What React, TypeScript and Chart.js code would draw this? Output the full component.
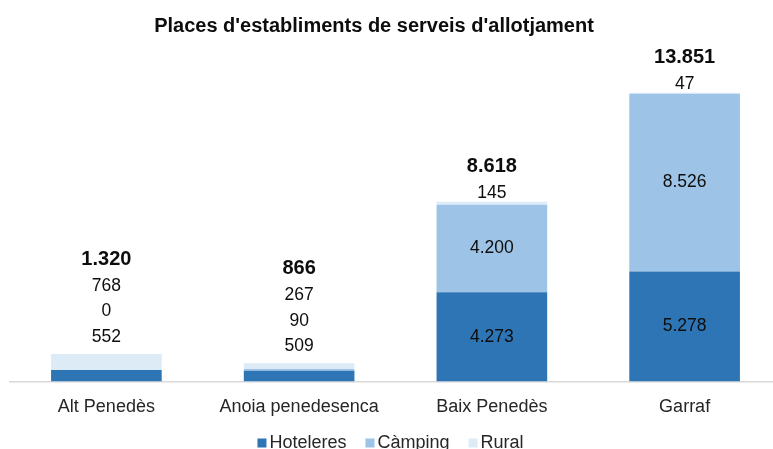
import React, { useEffect, useRef } from "react";
import { Chart, registerables } from "chart.js";

Chart.register(...registerables);

const TITLE = "Places d'establiments de serveis d'allotjament";
const categories = ["Alt Penedès", "Anoia penedesenca", "Baix Penedès", "Garraf"];
const hoteleres = [552, 509, 4273, 5278];
const camping = [0, 90, 4200, 8526];
const rural = [768, 267, 145, 47];
const seriesNames = ["Hoteleres", "Càmping", "Rural"];
const seriesColors = ["#2E75B6", "#9DC3E6", "#DDEBF7"];
const Y_MAX = 16000;

const FONT = "'Liberation Sans', Arial, sans-serif";
const TEXT = "#262626";

const fmt = (v: number) => String(v).replace(/\B(?=(\d{3})+(?!\d))/g, ".");

const labelsPlugin = {
  id: "customLabels",
  afterDatasetsDraw(chart: any) {
    const ctx = chart.ctx;
    const yScale = chart.scales.y;
    const metas = chart.getSortedVisibleDatasetMetas();
    ctx.save();
    ctx.textAlign = "center";
    ctx.textBaseline = "middle";
    categories.forEach((_, i) => {
      let total = 0;
      metas.forEach((m: any) => {
        total += chart.data.datasets[m.index].data[i] as number;
      });
      const top = yScale.getPixelForValue(total);
      const outside: number[] = [];
      let x = 0;
      metas.forEach((m: any) => {
        const bar = m.data[i];
        const v = chart.data.datasets[m.index].data[i] as number;
        x = bar.x;
        const h = Math.abs(bar.base - bar.y);
        if (h >= 28) {
          ctx.font = `17.5px ${FONT}`;
          ctx.fillStyle = "#0D0D0D";
          ctx.fillText(fmt(v), bar.x, (bar.y + bar.base) / 2);
        } else {
          outside.push(v);
        }
      });
      let off = outside.length > 1 ? 17 : 8.5;
      let last = 0;
      ctx.font = `17.5px ${FONT}`;
      ctx.fillStyle = "#0D0D0D";
      outside.forEach((v) => {
        ctx.fillText(fmt(v), x, top - off);
        last = off;
        off += 25.5;
      });
      ctx.font = `bold 20px ${FONT}`;
      ctx.fillStyle = "#0D0D0D";
      ctx.fillText(fmt(total), x, top - last - 26.5);
    });

    // Title
    ctx.font = `bold 20px ${FONT}`;
    ctx.fillStyle = "#0D0D0D";
    ctx.fillText(TITLE, 374, 26);

    // Legend
    ctx.font = `18px ${FONT}`;
    const box = 9;
    const gapText = 3;
    const gapItem = 19;
    const widths = seriesNames.map((n) => box + gapText + ctx.measureText(n).width);
    const totalW = widths.reduce((a, b) => a + b, 0) + gapItem * (seriesNames.length - 1);
    let lx = 390.5 - totalW / 2;
    const ly = 443;
    ctx.textAlign = "left";
    seriesNames.forEach((n, k) => {
      ctx.fillStyle = seriesColors[k];
      ctx.fillRect(lx, ly - box / 2, box, box);
      ctx.fillStyle = TEXT;
      ctx.fillText(n, lx + box + gapText, ly);
      lx += widths[k] + gapItem;
    });
    ctx.restore();
  },
};

export default function App() {
  const ref = useRef<HTMLCanvasElement | null>(null);
  useEffect(() => {
    document.body.style.margin = "0";
    document.body.style.overflow = "hidden";
    if (!ref.current) return;
    const chart = new Chart(ref.current, {
      type: "bar",
      data: {
        labels: categories,
        datasets: [hoteleres, camping, rural].map((d, k) => ({
          label: seriesNames[k],
          data: d,
          backgroundColor: seriesColors[k],
          borderWidth: 0,
          barPercentage: 0.574,
          categoryPercentage: 1,
        })),
      },
      options: {
        animation: false,
        responsive: false,
        events: [],
        layout: { padding: { left: 10, right: 0, top: 48, bottom: 16 } },
        plugins: {
          legend: { display: false },
          title: { display: false },
          tooltip: { enabled: false },
        },
        scales: {
          x: {
            stacked: true,
            grid: { display: true, color: "rgba(0,0,0,0)", drawTicks: false, drawOnChartArea: false },
            border: { display: true, color: "#D9D9D9", width: 1.5 },
            ticks: {
              padding: 15,
              color: TEXT,
              font: { family: FONT, size: 18 },
              maxRotation: 0,
              autoSkip: false,
            },
          },
          y: { stacked: true, display: false, min: 0, max: Y_MAX },
        },
      },
      plugins: [labelsPlugin],
    });
    return () => chart.destroy();
  }, []);
  return (
    <div style={{ width: 773, height: 449, overflow: "hidden" }}>
      <canvas ref={ref} width={781} height={449} style={{ display: "block" }} />
    </div>
  );
}
